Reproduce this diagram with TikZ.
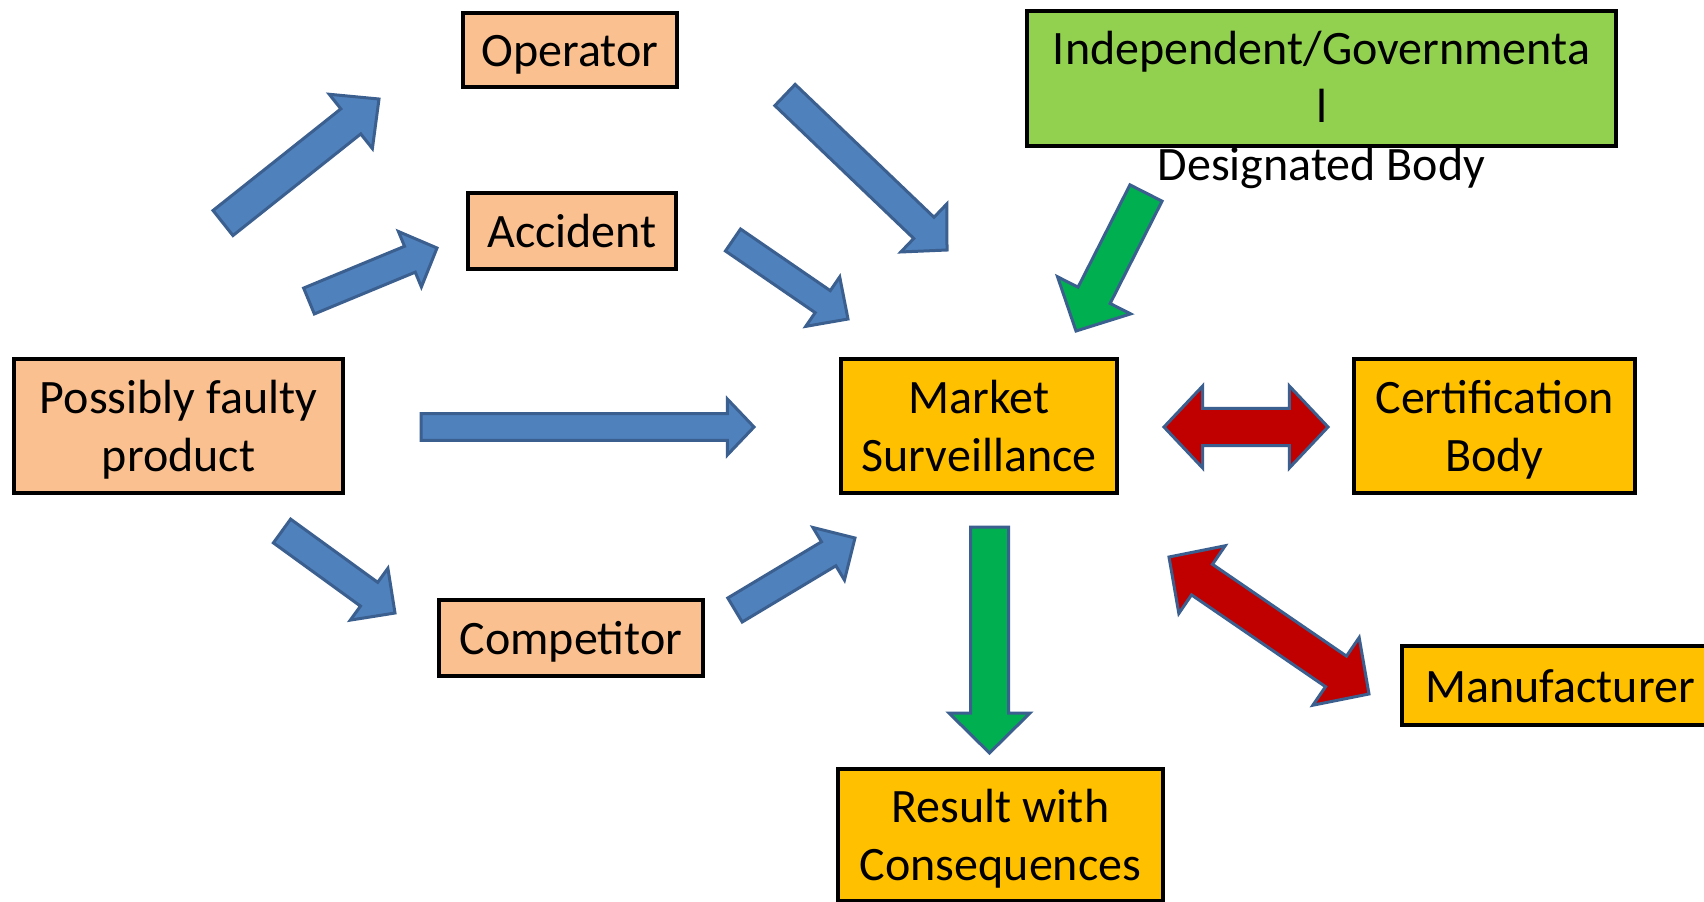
\documentclass[tikz,border=0pt]{standalone}
\usepackage{fontspec}
\setmainfont{Carlito}
\usetikzlibrary{calc}
\definecolor{peach}{HTML}{FAC090}
\definecolor{amber}{HTML}{FFC000}
\definecolor{leaf}{HTML}{92D050}
\definecolor{ablue}{HTML}{4F81BD}
\definecolor{aedge}{HTML}{3B5F8F}
\definecolor{agreen}{HTML}{00B050}
\definecolor{ared}{HTML}{C00000}
\newcommand\mystrut{\rule[-9pt]{0pt}{43.3pt}}
% #1 style, #2 tail, #3 tip, #4 half shaft, #5 half head, #6 head length
\newcommand\blockarrow[6]{%
  \coordinate (bat) at ($(#3)!#6!(#2)$);
  \draw[#1] ($(#2)!#4!90:(#3)$) -- ($(bat)!#4!90:(#3)$) -- ($(bat)!#5!90:(#3)$) -- (#3)
    -- ($(bat)!#5!-90:(#3)$) -- ($(bat)!#4!-90:(#3)$) -- ($(#2)!#4!-90:(#3)$) -- cycle;
}
% #1 style, #2 tip A, #3 tip B, #4 half shaft, #5 half head, #6 head length
\newcommand\dblarrow[6]{%
  \coordinate (dba) at ($(#2)!#6!(#3)$);
  \coordinate (dbb) at ($(#3)!#6!(#2)$);
  \draw[#1] (#2) -- ($(dba)!#5!90:(#3)$) -- ($(dba)!#4!90:(#3)$) -- ($(dbb)!#4!-90:(#2)$)
    -- ($(dbb)!#5!-90:(#2)$) -- (#3) -- ($(dbb)!#5!90:(#2)$) -- ($(dbb)!#4!90:(#2)$)
    -- ($(dba)!#4!-90:(#3)$) -- ($(dba)!#5!-90:(#3)$) -- cycle;
}
\begin{document}
\begin{tikzpicture}[x=0.75pt,y=-0.75pt,
  box/.style={draw=black,line width=3pt,inner sep=0pt,align=center,
    font=\fontsize{36}{43.5}\selectfont},
  lbl/.style={inner sep=0pt,align=center,font=\fontsize{36}{43.5}\selectfont},
  bluearrow/.style={fill=ablue,draw=aedge,line width=2.25pt,line join=miter},
  greenarrow/.style={fill=agreen,draw=aedge,line width=2.25pt,line join=miter},
  redarrow/.style={fill=ared,draw=aedge,line width=2.25pt,line join=miter}]
\clip (0,0) rectangle (1704,901);
\fill[white] (0,0) rectangle (1704,901);

% boxes
\node[box,fill=peach,minimum width=160.5pt,minimum height=55.5pt] (operator) at (570,50) {\mystrut Operator};
\node[box,fill=peach,minimum width=156pt,minimum height=57pt] (accident) at (572,231) {\mystrut Accident};
\node[box,fill=peach,minimum width=246.75pt,minimum height=100.5pt] (product) at (178.5,426) {\mystrut Possibly faulty\\\mystrut product};
\node[box,fill=peach,minimum width=198pt,minimum height=57pt] (competitor) at (571,638) {\mystrut Competitor};
\node[box,fill=amber,minimum width=207pt,minimum height=100.5pt] (market) at (979,426) {\mystrut Market\\\mystrut Surveillance};
\node[box,fill=amber,minimum width=210.75pt,minimum height=100.5pt] (cert) at (1494.5,426) {\mystrut Certification\\\mystrut Body};
\node[box,fill=leaf,minimum width=441.75pt,minimum height=101.25pt] (indep) at (1321.5,78.5) {};
\node[lbl] (indeptext) at (1321.5,106) {\mystrut Independent/Governmenta\\\mystrut l\\\mystrut Designated Body};
\node[box,fill=amber,minimum width=237pt,minimum height=59.25pt] (manuf) at (1560,685.5) {\mystrut Manufacturer};
\node[box,fill=amber,minimum width=243.75pt,minimum height=99pt] (result) at (1000.5,835) {\mystrut Result with\\\mystrut Consequences};

% arrow end points
\coordinate (a1s) at (223,223); \coordinate (a1e) at (379,99);
\coordinate (a2s) at (309,301); \coordinate (a2e) at (437,248);
\coordinate (a3s) at (421,427); \coordinate (a3e) at (754,427);
\coordinate (a4s) at (282,531); \coordinate (a4e) at (395,613);
\coordinate (a5s) at (785,95);  \coordinate (a5e) at (947,250);
\coordinate (a6s) at (733,240); \coordinate (a6e) at (848,319);
\coordinate (a7s) at (735,610); \coordinate (a7e) at (855,538);
\coordinate (g1s) at (1146,193); \coordinate (g1e) at (1076,331);
\coordinate (g2s) at (989.5,527); \coordinate (g2e) at (989.5,753);
\coordinate (r1a) at (1164,427); \coordinate (r1b) at (1328,427);
\coordinate (r2a) at (1169,557); \coordinate (r2b) at (1369,694);

\blockarrow{bluearrow}{a1s}{a1e}{12pt}{26pt}{27pt}
\blockarrow{bluearrow}{a2s}{a2e}{10.5pt}{22.5pt}{22pt}
\blockarrow{bluearrow}{a3s}{a3e}{10pt}{21pt}{20pt}
\blockarrow{bluearrow}{a4s}{a4e}{11pt}{24pt}{24pt}
\blockarrow{bluearrow}{a5s}{a5e}{11pt}{25pt}{24pt}
\blockarrow{bluearrow}{a6s}{a6e}{10pt}{22.5pt}{23pt}
\blockarrow{bluearrow}{a7s}{a7e}{10.5pt}{23pt}{23pt}
\blockarrow{greenarrow}{g1s}{g1e}{13.5pt}{30.75pt}{30pt}
\blockarrow{greenarrow}{g2s}{g2e}{14.25pt}{30.4pt}{30pt}
\dblarrow{redarrow}{r1a}{r1b}{13.9pt}{30.75pt}{29pt}
\dblarrow{redarrow}{r2a}{r2b}{13.9pt}{30.75pt}{30pt}
\end{tikzpicture}
\end{document}
